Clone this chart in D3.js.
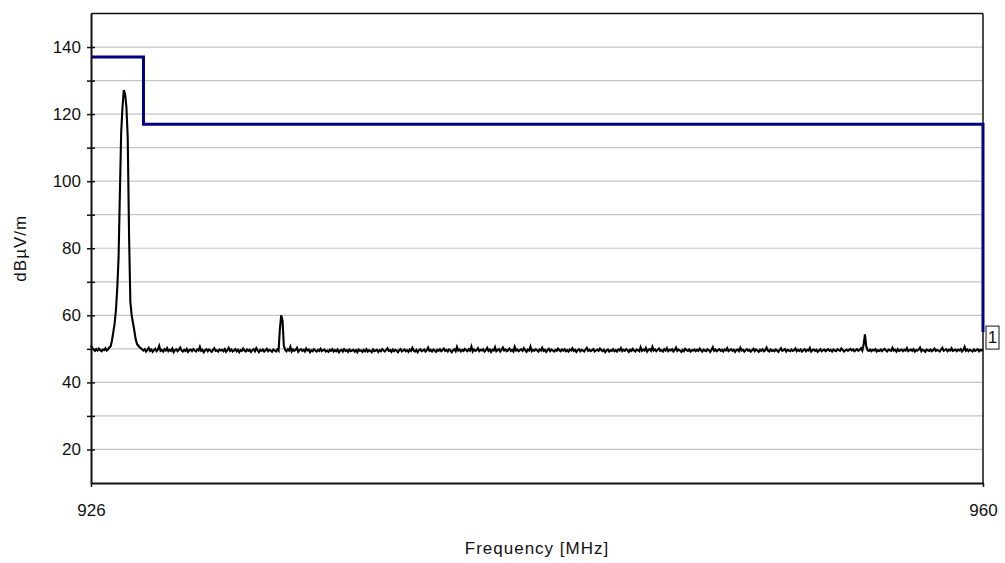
<!DOCTYPE html>
<html>
<head>
<meta charset="utf-8">
<script src="https://cdn.jsdelivr.net/npm/d3@7"></script>
<style>
  body { margin: 0; background: #fff; }
  text { font-family: Arial, "Liberation Sans", sans-serif; fill: #111; }
</style>
</head>
<body>
<div id="chart"></div>
<script>
// sweep: 926 - 960 MHz, one sample every 0.05 MHz
const sweepStart = 926
const sweepStep = 0.05

// measured level in dBuV/m, 20 samples per MHz
const levels = [
  51.0, 50.2, 49.8, 49.4, 49.9, 49.5, 50.1, 49.6, 49.3, 49.8, 49.6, 50.2, 49.5, 49.9, 50.4, 50.8, 52.5, 55.0, 57.5, 61.5,
  68.0, 77.0, 96.0, 114.5, 122.0, 127.2, 126.0, 122.0, 113.0, 84.0, 64.0, 60.0, 57.8, 55.5, 53.0, 51.5, 51.0, 50.5, 50.2, 49.8,
  49.5, 49.9, 49.2, 49.7, 50.3, 49.4, 49.8, 49.1, 49.6, 50.0, 49.3, 49.8, 50.9, 49.4, 49.7, 49.2, 49.9, 49.5, 50.2, 49.3,
  49.7, 49.4, 50.1, 49.0, 49.6, 49.9, 49.3, 49.8, 50.4, 49.5, 49.2, 49.7, 49.4, 50.0, 49.1, 49.6, 49.8, 49.3, 49.9, 49.5,
  49.2, 49.8, 49.5, 50.6, 49.4, 49.7, 49.0, 49.6, 49.9, 49.3, 49.8, 49.5, 49.1, 49.7, 50.2, 49.4, 49.6, 49.2, 49.8, 49.5,
  49.7, 49.3, 49.9, 49.1, 49.6, 50.3, 49.4, 49.8, 49.2, 49.5, 49.9, 49.3, 49.7, 49.0, 49.6, 49.4, 50.1, 49.5, 49.2, 49.8,
  49.4, 49.7, 49.1, 49.6, 49.9, 49.3, 50.2, 49.5, 49.0, 49.7, 49.4, 49.8, 49.2, 49.6, 50.0, 49.3, 49.7, 49.5, 49.1, 49.8,
  49.5, 49.2, 49.8, 49.4, 56.0, 60.0, 58.5, 51.0, 49.7, 49.3, 49.9, 49.5, 50.6, 49.2, 49.8, 49.4, 49.7, 50.3, 49.1, 49.6,
  49.9, 49.4, 49.7, 49.2, 50.1, 49.5, 49.8, 49.0, 49.6, 49.3, 49.9, 49.5, 49.2, 49.7, 49.4, 50.0, 49.3, 49.6, 49.8, 49.2,
  49.5, 49.1, 49.7, 49.4, 49.9, 49.2, 49.6, 49.3, 49.8, 49.0, 49.5, 49.7, 49.2, 49.9, 49.4, 49.6, 49.1, 49.8, 49.3, 49.5,
  49.7, 49.2, 49.6, 49.0, 49.8, 49.4, 49.5, 49.1, 49.7, 49.3, 49.9, 49.2, 49.6, 49.4, 49.0, 49.8, 49.3, 49.5, 49.7, 49.1,
  49.6, 49.3, 49.9, 49.5, 49.2, 49.7, 50.2, 49.4, 49.6, 49.1, 49.8, 49.3, 49.7, 49.5, 49.0, 49.6, 49.9, 49.2, 49.5, 49.8,
  49.3, 49.6, 49.1, 49.8, 49.4, 50.3, 49.5, 49.2, 49.7, 49.0, 49.6, 49.9, 49.3, 49.5, 49.8, 49.2, 49.6, 50.4, 49.4, 49.7,
  49.2, 49.8, 49.5, 49.1, 49.7, 49.4, 49.9, 49.3, 49.6, 50.1, 49.4, 49.7, 49.2, 49.8, 49.5, 49.0, 49.6, 49.9, 49.3, 50.6,
  49.5, 49.8, 49.2, 49.7, 49.4, 50.0, 49.6, 49.3, 49.9, 49.5, 50.7, 49.2, 49.8, 49.4, 49.6, 50.2, 49.3, 49.7, 49.5, 49.9,
  49.2, 49.6, 50.3, 49.4, 49.8, 49.1, 49.7, 49.5, 50.5, 49.3, 49.6, 49.9, 49.2, 49.7, 50.4, 49.5, 49.8, 49.3, 49.6, 50.1,
  49.4, 49.7, 49.2, 50.6, 49.5, 49.8, 49.3, 49.6, 49.9, 49.4, 50.2, 49.6, 49.1, 49.8, 49.5, 50.7, 49.3, 49.7, 49.4, 49.9,
  49.6, 49.2, 49.8, 49.5, 50.3, 49.4, 49.7, 49.1, 49.6, 50.0, 49.3, 49.8, 49.5, 49.2, 49.7, 49.4, 50.1, 49.6, 49.3, 49.8,
  49.5, 49.9, 49.3, 49.6, 49.2, 49.8, 49.5, 50.2, 49.4, 49.7, 49.1, 49.6, 49.9, 49.3, 49.7, 49.5, 49.2, 49.8, 50.3, 49.4,
  49.7, 49.3, 49.6, 49.9, 49.2, 49.5, 49.8, 49.4, 50.1, 49.6, 49.3, 49.7, 49.0, 49.5, 49.8, 49.2, 49.6, 49.4, 49.9, 49.3,
  49.6, 49.2, 49.8, 49.5, 50.2, 49.3, 49.7, 49.4, 49.9, 49.6, 49.1, 49.7, 49.4, 50.0, 49.5, 49.2, 49.8, 49.6, 49.3, 50.5,
  49.4, 49.8, 49.5, 50.3, 49.2, 49.7, 49.9, 49.4, 50.6, 49.5, 49.8, 49.3, 49.7, 50.1, 49.4, 49.6, 49.2, 49.9, 49.5, 50.2,
  49.3, 49.7, 49.5, 49.9, 49.2, 49.6, 50.4, 49.4, 49.8, 49.5, 49.1, 49.7, 49.3, 50.0, 49.6, 49.4, 49.8, 49.2, 49.6, 49.5,
  49.8, 49.3, 49.7, 49.4, 50.1, 49.6, 49.2, 49.8, 49.5, 49.3, 49.9, 49.6, 49.1, 49.7, 50.5, 49.4, 49.8, 49.3, 49.6, 49.9,
  49.4, 49.7, 49.2, 49.8, 49.5, 50.2, 49.3, 49.6, 49.9, 49.4, 49.7, 49.1, 49.6, 49.8, 49.3, 50.3, 49.5, 49.7, 49.2, 49.6,
  49.9, 49.4, 49.7, 49.2, 49.6, 50.0, 49.3, 49.8, 49.5, 49.1, 49.7, 49.4, 49.9, 49.3, 49.6, 50.4, 49.5, 49.2, 49.8, 49.4,
  49.6, 49.3, 49.8, 49.5, 49.1, 49.7, 50.2, 49.4, 49.6, 49.9, 49.2, 49.7, 49.5, 49.3, 49.8, 49.4, 49.6, 50.1, 49.3, 49.7,
  49.4, 49.8, 49.2, 49.6, 49.9, 49.3, 49.7, 49.5, 50.3, 49.2, 49.6, 49.8, 49.4, 49.7, 49.1, 49.5, 49.9, 49.3, 49.6, 49.8,
  49.3, 49.6, 49.9, 49.4, 49.7, 49.2, 49.8, 49.5, 49.3, 49.9, 49.6, 49.4, 50.1, 49.7, 49.2, 49.5, 49.8, 49.4, 49.7, 50.0,
  49.5, 49.8, 49.3, 49.6, 49.9, 49.4, 49.7, 50.2, 49.5, 51.2, 54.3, 50.8, 49.6, 49.4, 49.8, 49.3, 49.7, 49.5, 49.9, 49.2,
  49.6, 49.4, 49.8, 49.3, 49.7, 50.0, 49.5, 49.2, 49.8, 49.6, 49.4, 50.3, 49.5, 49.7, 49.2, 49.9, 49.4, 49.6, 49.8, 49.3,
  49.7, 49.5, 50.2, 49.3, 49.6, 49.8, 49.4, 49.9, 49.2, 49.6, 49.5, 49.8, 50.4, 49.3, 49.7, 49.5, 49.1, 49.8, 49.6, 49.4,
  49.8, 49.3, 49.6, 50.1, 49.4, 49.7, 49.5, 49.2, 49.8, 50.3, 49.4, 49.6, 49.9, 49.3, 49.7, 49.5, 50.2, 49.4, 49.6, 49.8,
  49.3, 49.7, 49.5, 49.9, 49.2, 49.6, 50.6, 49.4, 49.8, 49.3, 49.7, 49.5, 49.2, 49.8, 49.4, 49.6, 49.9, 49.3, 49.7, 49.5,
  49.8
]

// limit line (blue)
const limitFreq = [926, 928, 928, 960, 960]
const limitLevel = [137, 137, 117, 117, 55]

// axis ticks
const yTicks = [20, 30, 40, 50, 60, 70, 80, 90, 100, 110, 120, 130, 140]
const yLabels = [20, 40, 60, 80, 100, 120, 140]
const xTicks = [926, 960]
const markerLabel = "1"

const margin = {top: 13.5, right: 22, bottom: 80, left: 91}
const width = 1005 - margin.left - margin.right
const height = 563 - margin.top - margin.bottom

const svg = d3.select("#chart")
  .append("svg")
  .attr("width", 1005)
  .attr("height", 563)
const g = svg.append("g")
  .attr("transform", "translate(" + margin.left + "," + margin.top + ")")

const x = d3.scaleLinear().domain([926, 960]).range([0, width])
const y = d3.scaleLinear().domain([10, 150]).range([height, 0])

// grid lines
g.append("g")
  .selectAll("line")
  .data(yTicks)
  .enter()
  .append("line")
  .attr("x1", 0)
  .attr("x2", width)
  .attr("y1", d => y(d))
  .attr("y2", d => y(d))
  .attr("stroke", "#c4c4c4")
  .attr("stroke-width", 1.2)

// plot frame top / right
g.append("line").attr("x1", 0).attr("x2", width).attr("y1", 0).attr("y2", 0)
  .attr("stroke", "#111").attr("stroke-width", 1.5)
g.append("line").attr("x1", width).attr("x2", width).attr("y1", 0).attr("y2", height)
  .attr("stroke", "#111").attr("stroke-width", 1.5)

// measured trace
const trace = levels.map((v, i) => [sweepStart + i * sweepStep, v])
g.append("path")
  .datum(trace)
  .attr("fill", "none")
  .attr("stroke", "#000")
  .attr("stroke-width", 2.1)
  .attr("stroke-linejoin", "miter")
  .attr("d", d3.line().x(d => x(d[0])).y(d => y(d[1])))

// limit line
const limit = limitFreq.map((f, i) => [f, limitLevel[i]])
g.append("path")
  .datum(limit)
  .attr("fill", "none")
  .attr("stroke", "#000080")
  .attr("stroke-width", 3)
  .attr("d", d3.line().x(d => x(d[0])).y(d => y(d[1])))

// y axis, ticks crossing the line
const yAxis = g.append("g")
  .call(d3.axisLeft(y).tickValues(yTicks).tickSize(4).tickFormat(d => yLabels.includes(d) ? d : "").tickSizeOuter(0))
yAxis.select(".domain").attr("stroke", "#111").attr("stroke-width", 2)
yAxis.selectAll(".tick line").attr("x2", 4).attr("x1", -4).attr("stroke", "#111").attr("stroke-width", 1.5)
yAxis.selectAll(".tick text").attr("x", -10).style("font-size", "17px").attr("fill", "#111")

// x axis
const xAxis = g.append("g")
  .attr("transform", "translate(0," + height + ")")
  .call(d3.axisBottom(x).tickValues(xTicks).tickSize(4).tickFormat(d3.format("d")).tickSizeOuter(0))
xAxis.select(".domain").attr("stroke", "#111").attr("stroke-width", 2)
xAxis.selectAll(".tick line").attr("stroke", "#111").attr("stroke-width", 1.5)
xAxis.selectAll(".tick text").attr("y", 21).style("font-size", "17px").attr("fill", "#111")

// marker box at the end of the limit line
const mk = g.append("g")
  .attr("transform", "translate(" + (x(960) + 3) + "," + (y(limitLevel[4]) - 6) + ")")
mk.append("rect")
  .attr("width", 13).attr("height", 23)
  .attr("fill", "#fff").attr("stroke", "#111").attr("stroke-width", 1)
mk.append("text")
  .attr("x", 6.5).attr("y", 17)
  .attr("text-anchor", "middle")
  .style("font-size", "17px")
  .text(markerLabel)

// axis titles
svg.append("text")
  .attr("x", margin.left + width / 2)
  .attr("y", 554)
  .attr("text-anchor", "middle")
  .style("font-size", "17px")
  .style("letter-spacing", "1px")
  .text("Frequency [MHz]")

svg.append("text")
  .attr("transform", "translate(26," + (margin.top + y(80)) + ") rotate(-90)")
  .attr("text-anchor", "middle")
  .style("font-size", "17px")
  .style("letter-spacing", "1px")
  .text("dBµV/m")
</script>
</body>
</html>
